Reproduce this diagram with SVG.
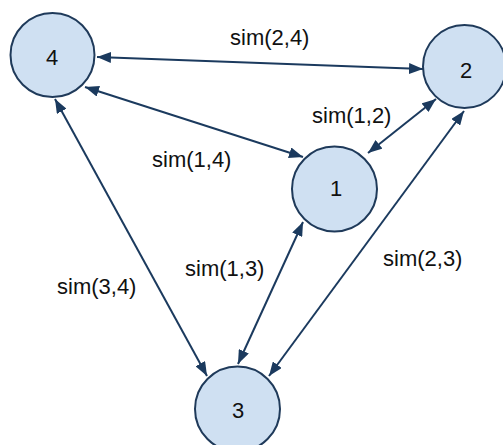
<svg xmlns="http://www.w3.org/2000/svg" width="503" height="445" viewBox="0 0 503 445">
  <style>
    .node circle { fill: #cfe0f2; stroke: #1f3a5a; stroke-width: 2; }
    .node text { font-family: "Liberation Sans", Arial, sans-serif; font-size: 22px; fill: #111; text-anchor: middle; }
    .edge { stroke: #1b3a5e; stroke-width: 2; fill: none; marker-start: url(#arrow); marker-end: url(#arrow); }
    .label { font-family: "Liberation Sans", Arial, sans-serif; font-size: 22px; fill: #111; }
  </style>
  <defs>
    <marker id="arrow" markerUnits="userSpaceOnUse" markerWidth="15" markerHeight="11" refX="14" refY="5.5" orient="auto-start-reverse">
      <path d="M0,0 L14,5.5 L0,11 z" fill="#1b3a5e"/>
    </marker>
  </defs>

  <rect width="503" height="445" fill="#ffffff"/>

  <!-- connectors -->
  <g id="edges">
    <line class="edge" x1="97" y1="57" x2="423" y2="69"/>
    <line class="edge" x1="85" y1="87" x2="303" y2="157"/>
    <line class="edge" x1="368" y1="153" x2="436" y2="99"/>
    <line class="edge" x1="464" y1="111" x2="269" y2="376"/>
    <line class="edge" x1="303" y1="222" x2="238" y2="364"/>
    <line class="edge" x1="55" y1="99" x2="207" y2="376"/>
  </g>

  <!-- edge labels -->
  <g id="labels">
    <text class="label" x="230" y="45">sim(2,4)</text>
    <text class="label" x="312" y="123">sim(1,2)</text>
    <text class="label" x="152" y="167">sim(1,4)</text>
    <text class="label" x="185" y="276">sim(1,3)</text>
    <text class="label" x="383" y="266">sim(2,3)</text>
    <text class="label" x="57" y="294">sim(3,4)</text>
  </g>

  <!-- nodes -->
  <g id="node4" class="node">
    <circle cx="52.5" cy="55" r="42"/>
    <text x="52" y="65">4</text>
  </g>
  <g id="node2" class="node">
    <circle cx="464.5" cy="66.5" r="41.5"/>
    <text x="466" y="78">2</text>
  </g>
  <g id="node1" class="node">
    <circle cx="334.5" cy="189" r="42.5"/>
    <text x="336" y="196">1</text>
  </g>
  <g id="node3" class="node">
    <circle cx="237.5" cy="409" r="42.5"/>
    <text x="238" y="418">3</text>
  </g>
</svg>
